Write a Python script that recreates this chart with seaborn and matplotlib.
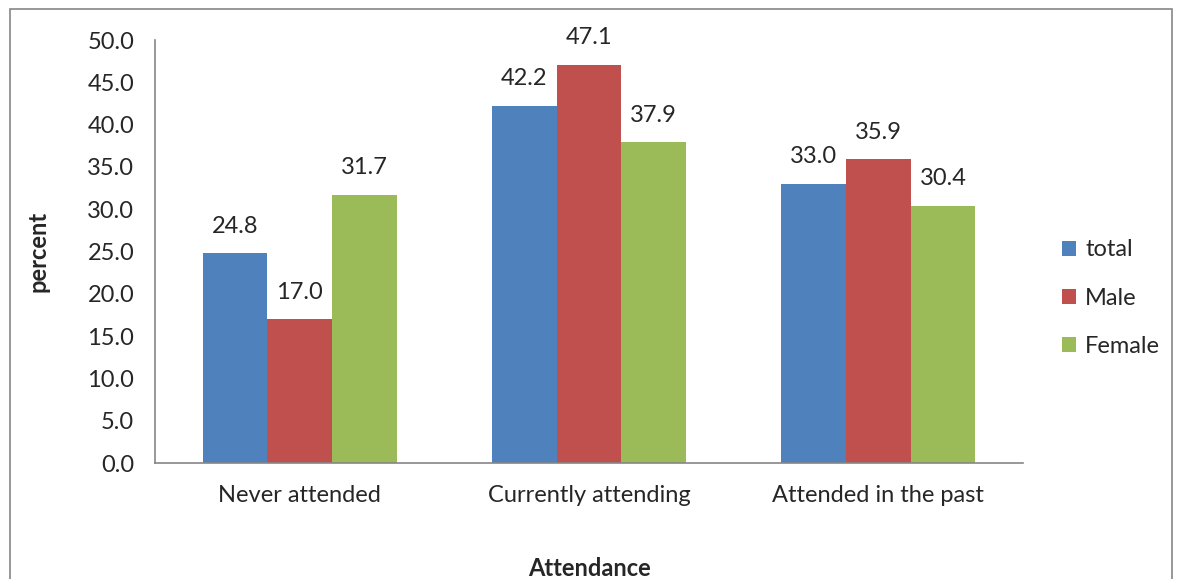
import pandas as pd
import matplotlib
matplotlib.use("Agg")
import matplotlib.pyplot as plt
import seaborn as sns
from matplotlib.patches import Rectangle

# data
categories = ["Never attended", "Currently attending", "Attended in the past"]
groups = ["total", "Male", "Female"]
total = [24.8, 42.2, 33.0]
male = [17.0, 47.1, 35.9]
female = [31.7, 37.9, 30.4]
colors = ["#4F81BD", "#C0504D", "#9BBB59"]

df = pd.DataFrame({
    "Attendance": categories * 3,
    "group": [g for g in groups for _ in categories],
    "percent": total + male + female,
})

sns.set_style("white")
plt.rcParams["font.family"] = ["Lato", "DejaVu Sans"]
fs = 17

fig = plt.figure(figsize=(11.78, 5.79), dpi=100)
ax = fig.add_axes([0.1316, 0.2003, 0.7368, 0.7306])

sns.barplot(data=df, x="Attendance", y="percent", hue="group",
            palette=colors, width=0.67, saturation=1, ax=ax, legend=True,
            linewidth=0, edgecolor="none")

for cont in ax.containers:
    ax.bar_label(cont, fmt="%.1f", padding=12, fontsize=fs)

ax.set_ylim(0, 50)
ax.set_yticks(range(0, 51, 5))
ax.set_yticklabels([f"{v:.1f}" for v in range(0, 51, 5)], fontsize=fs)
ax.set_xlim(-0.5, 2.5)
ax.set_xticks([-0.5, 0.5, 1.5, 2.5], minor=False)
ax.set_xticklabels([])
ax.set_xticks([0, 1, 2], minor=True)
ax.set_xticklabels(categories, minor=True, fontsize=fs)
ax.tick_params(axis="x", which="minor", length=0, pad=16)
ax.tick_params(axis="x", which="major", length=6, width=1.2, color="#868686", direction="out")
ax.tick_params(axis="y", length=6, width=1.2, color="#868686", direction="out", pad=9)

for s in ["top", "right"]:
    ax.spines[s].set_visible(False)
for s in ["left", "bottom"]:
    ax.spines[s].set_color("#868686")
    ax.spines[s].set_linewidth(1.2)

ax.set_xlabel("Attendance", fontsize=fs, fontweight="bold")
ax.set_ylabel("percent", fontsize=fs, fontweight="bold")
ax.xaxis.set_label_coords(0.5, -0.222)
ax.yaxis.set_label_coords(-0.122, 0.5)

handles, labels = ax.get_legend_handles_labels()
ax.legend(handles, labels, loc="center left", bbox_to_anchor=(1.02, 0.39),
          frameon=False, fontsize=fs, handlelength=0.6, handleheight=0.6,
          handletextpad=0.4, labelspacing=1.15)

fig.patches.append(Rectangle((0.0085, -0.02), 0.9864, 1.0045,
                             transform=fig.transFigure, fill=False,
                             edgecolor="#868686", linewidth=1.2))

fig.savefig("out.png", dpi=100)
